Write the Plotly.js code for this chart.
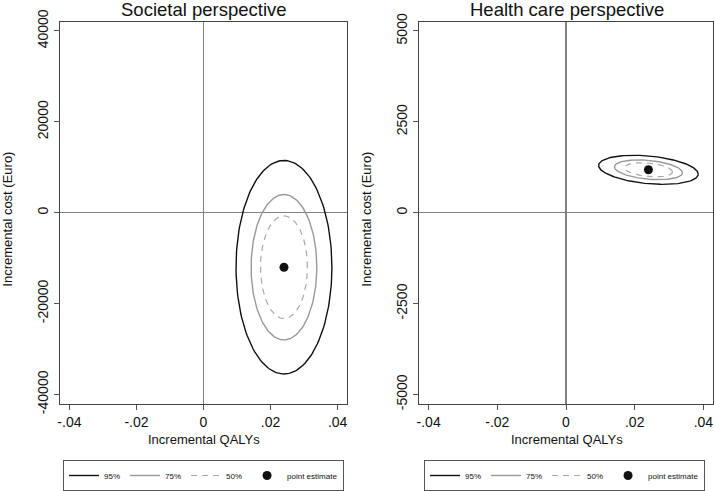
<!DOCTYPE html>
<html>
<head>
<meta charset="utf-8">
<script src="https://cdn.plot.ly/plotly-3.0.1.min.js"></script>
<style>
  html, body { margin: 0; padding: 0; background: #fff; }
  #chart { width: 715px; height: 491px; }
</style>
</head>
<body>
<div id="chart"></div>
<script>
// ---- data ----
const LEVELS = ["95%", "75%", "50%"];

const SOC_CENTER = [0.024, -12000];
const SOC_X_RADIUS = [0.0143, 0.0098, 0.0070];
const SOC_Y_RADIUS = [23500, 16000, 11300];
const SOC_CORR = 0.0;

const HC_CENTER = [0.024, 1180];
const HC_X_RADIUS = [0.0145, 0.0099, 0.0070];
const HC_Y_RADIUS = [400, 272, 192];
const HC_CORR = -0.3;

const X_TICKS = [-0.04, -0.02, 0, 0.02, 0.04];
const X_TICK_TEXT = ["-.04", "-.02", "0", ".02", ".04"];
const SOC_Y_TICKS = [-40000, -20000, 0, 20000, 40000];
const SOC_Y_TICK_TEXT = ["-40000", "-20000", "0", "20000", "40000"];
const HC_Y_TICKS = [-5000, -2500, 0, 2500, 5000];
const HC_Y_TICK_TEXT = ["-5000", "-2500", "0", "2500", "5000"];

// ---- styling ----
const W = 715, H = 491;
const FONT = { family: "Liberation Sans, Arial, sans-serif", color: "#111" };
const LEVEL_LINES = [
  { color: "#111111", width: 1.4 },
  { color: "#999999", width: 1.4 },
  { color: "#a8a8a8", width: 1.2, dash: "6px,5px" },
];
const fx = px => px / W;
const fy = py => 1 - py / H;

// ellipse outline: bounding half-sizes a, b and correlation r
function ellipse(c, a, b, r) {
  const xs = [], ys = [];
  const s = Math.sqrt(1 - r * r);
  for (let i = 0; i <= 180; i++) {
    const t = (i / 180) * 2 * Math.PI;
    xs.push(c[0] + a * Math.cos(t));
    ys.push(c[1] + b * (r * Math.cos(t) + s * Math.sin(t)));
  }
  return { xs, ys };
}

function panelTraces(center, xr, yr, corr, xa, ya, legend) {
  const traces = LEVELS.map((lv, i) => {
    const e = ellipse(center, xr[i], yr[i], corr);
    return {
      x: e.xs, y: e.ys, xaxis: xa, yaxis: ya, legend,
      type: "scatter", mode: "lines", name: lv,
      line: LEVEL_LINES[i], hoverinfo: "skip",
    };
  });
  traces.push({
    x: [center[0]], y: [center[1]], xaxis: xa, yaxis: ya, legend,
    type: "scatter", mode: "markers", name: "point estimate",
    marker: { color: "#111", size: 9 },
  });
  return traces;
}

const data = [
  ...panelTraces(SOC_CENTER, SOC_X_RADIUS, SOC_Y_RADIUS, SOC_CORR, "x", "y", "legend"),
  ...panelTraces(HC_CENTER, HC_X_RADIUS, HC_Y_RADIUS, HC_CORR, "x2", "y2", "legend2"),
];

const axisBase = {
  showline: true, mirror: true, linecolor: "#444", linewidth: 1.2,
  ticks: "outside", ticklen: 5, tickwidth: 1, tickcolor: "#555",
  showgrid: false, zeroline: true, zerolinecolor: "#808080", zerolinewidth: 1.3,
  tickfont: { ...FONT, size: 14 },
};
const xAxis = (dom, anchor) => ({
  ...axisBase, domain: dom, anchor, range: [-0.0428, 0.0428],
  tickmode: "array", tickvals: X_TICKS, ticktext: X_TICK_TEXT,
});
const yAxis = (anchor, range, vals, text) => ({
  ...axisBase, domain: [fy(406), fy(22)], anchor, range,
  tickmode: "array", tickvals: vals, ticktext: text, tickangle: -90,
});

const legendBase = {
  orientation: "h", xanchor: "left", yanchor: "top",
  bordercolor: "#555", borderwidth: 1, bgcolor: "#fff",
  font: { ...FONT, size: 8 }, itemwidth: 30,
  traceorder: "normal", itemclick: false,
};

const note = (text, x, y, size, angle) => ({
  text, x: fx(x), y: fy(y), xref: "paper", yref: "paper",
  showarrow: false, textangle: angle || 0,
  xanchor: "center", yanchor: "middle",
  font: { ...FONT, size },
});

const layout = {
  width: W, height: H,
  margin: { l: 0, r: 0, t: 0, b: 0 },
  paper_bgcolor: "#fff", plot_bgcolor: "#fff",
  font: FONT, showlegend: true,
  xaxis: xAxis([fx(60), fx(347)], "y"),
  yaxis: yAxis("x", [-42000, 42000], SOC_Y_TICKS, SOC_Y_TICK_TEXT),
  xaxis2: xAxis([fx(419), fx(713)], "y2"),
  yaxis2: yAxis("x2", [-5250, 5250], HC_Y_TICKS, HC_Y_TICK_TEXT),
  legend: { ...legendBase, x: fx(63), y: fy(463) },
  legend2: { ...legendBase, x: fx(424), y: fy(463) },
  annotations: [
    note("Societal perspective", 203.5, 10, 18.5),
    note("Health care perspective", 566.5, 10, 18.5),
    note("Incremental QALYs", 203.5, 442, 13),
    note("Incremental QALYs", 566.5, 442, 13),
    note("Incremental cost (Euro)", 8, 221, 13, -90),
    note("Incremental cost (Euro)", 367, 221, 13, -90),
  ],
};

Plotly.newPlot("chart", data, layout, { displayModeBar: false, staticPlot: true });
</script>
</body>
</html>
